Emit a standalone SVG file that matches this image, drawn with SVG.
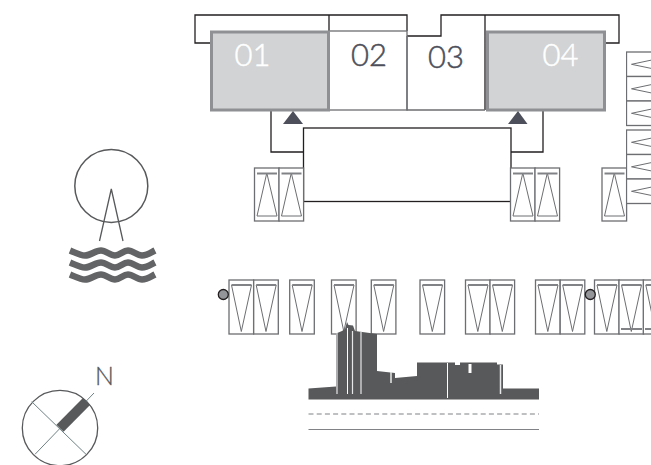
<svg xmlns="http://www.w3.org/2000/svg" width="651" height="465" viewBox="0 0 651 465">
<style>
.wall{fill:none;stroke:#231f20;stroke-width:1.3}
.part{fill:none;stroke:#6d6e71;stroke-width:1.3}
.hi{fill:#d1d3d4;stroke:#8e9093;stroke-width:3}
.num{font-family:"Lato","Liberation Sans",sans-serif;font-weight:300;font-size:31px;text-anchor:middle;stroke-width:0.5}
.tri{fill:#4d4f5a}
.frame{fill:#fff;stroke:#6d6e71;stroke-width:1.3}
.glass{fill:none;stroke:#6d6e71;stroke-width:1}
.bar{stroke:#808285;stroke-width:2;fill:none}
.dot{fill:#939598;stroke:#231f20;stroke-width:1.3}
.sky{fill:#58595b}
.gap{stroke:#e6e7e8;fill:none}
</style>
<defs>
<g id="wd"><rect class="frame" x="0" y="0" width="24.6" height="54"/><path class="glass" d="M2.5 5L12.3 51.5L22.5 5"/><path class="bar" d="M2.5 5H22.5"/></g>
<g id="wu"><rect class="frame" x="0" y="0" width="24.6" height="53"/><path class="glass" d="M2.5 48L12.3 5L22.5 48Z"/><path class="bar" d="M2.5 5.5H22.5"/></g>
<g id="wl"><rect class="frame" x="0" y="0" width="40" height="24.5"/><path class="glass" d="M30 7L5 12.3L30 17.5"/></g>
</defs>
<g id="connectors">
<path class="wall" d="M211 43H195V15H407V31M329 15V31M407 36H441V15H619V43H605M485 15V110"/>
<path class="wall" d="M271 110V152H303M543 110V152H511"/>
</g>
<g id="room-02"><rect class="part" x="329" y="31" width="78" height="79"/><text class="num" x="369" y="66" fill="#4d4f5a" stroke="#4d4f5a">02</text></g>
<g id="room-03"><path class="part" d="M407 36V110H485"/><text class="num" x="446" y="68" fill="#4d4f5a" stroke="#4d4f5a">03</text></g>
<g id="room-01"><rect class="hi" x="211.5" y="32" width="117" height="78"/><text class="num" x="252.5" y="66" fill="#fff" stroke="#fff">01</text></g>
<g id="room-04"><rect class="hi" x="487.5" y="32" width="117" height="78"/><text class="num" x="560.5" y="66" fill="#fff" stroke="#fff">04</text></g>
<g id="entrance-1"><path class="tri" d="M293 111L303 124H283Z"/></g>
<g id="entrance-2"><path class="tri" d="M518 111L527.5 124H508Z"/></g>
<g id="core"><rect x="303.500" y="128" width="207.500" height="73.500" fill="#fff" stroke="#231f20" stroke-width="1.300"/></g>
<g id="windows-up">
<use href="#wu" x="254.500" y="168"/><use href="#wu" x="279" y="168"/>
<use href="#wu" x="510.500" y="168"/><use href="#wu" x="535" y="168"/><use href="#wu" x="602" y="168"/>
</g>
<g id="windows-right">
<svg x="626" y="40" width="25" height="190" viewBox="626 40 25 190">
<use href="#wl" x="626.500" y="52"/><use href="#wl" x="626.500" y="76.500"/><use href="#wl" x="626.500" y="101"/>
<use href="#wl" x="626.500" y="130"/><use href="#wl" x="626.500" y="154.500"/><use href="#wl" x="626.500" y="179"/>
</svg>
</g>
<g id="windows-down">
<use href="#wd" x="229" y="280"/><use href="#wd" x="253.700" y="280"/><use href="#wd" x="289.700" y="280"/>
<use href="#wd" x="331.500" y="280"/><use href="#wd" x="371.300" y="280"/><use href="#wd" x="420" y="280"/>
<use href="#wd" x="465.500" y="280"/><use href="#wd" x="490" y="280"/><use href="#wd" x="535.500" y="280"/><use href="#wd" x="560.200" y="280"/>
<use href="#wd" x="594.500" y="280"/><use href="#wd" x="619" y="280"/><use href="#wd" x="643.300" y="280"/>
<path class="bar" d="M621 329H642M645 329H651"/>
</g>
<g id="dot-1"><circle class="dot" cx="223.300" cy="294.500" r="5"/></g>
<g id="dot-2"><circle class="dot" cx="590.300" cy="294.500" r="5"/></g>
<g id="skyline">
<path class="sky" d="M308.500 388.500L336 386.500V333.500L342 331L345 329L347 322L348.500 325L353 325.500L355 331L377 334V371L395 373V378L417 376V362.500H455V365H460V362.500L497 362.500V364.500H503V388.500H539V399.500H308.500Z"/>
<path class="gap" stroke-width="1.200" d="M337 333V394M352.500 331V394M361 332V394"/>
<path d="M347.500 328V394M447.500 363V398" stroke="#fff" stroke-width="1" fill="none"/>
<path class="gap" stroke-width="1.500" d="M391 372V383M500.500 365V394"/>
<path d="M470 364V373" stroke="#fff" stroke-width="3" fill="none"/>
<path d="M308.500 414H539" stroke="#808285" stroke-width="1.200" stroke-dasharray="5 3.200" fill="none"/>
<path d="M308.500 429.500H539" stroke="#808285" stroke-width="1.200" fill="none"/>
</g>
<g id="ferris-wheel">
<circle cx="111.300" cy="186" r="36.500" fill="none" stroke="#58595b" stroke-width="1.500"/>
<path d="M99.500 241L111.300 189L123 241" fill="none" stroke="#58595b" stroke-width="1.300"/>
<g fill="none" stroke="#636466" stroke-width="6.500">
<path d="M70 250.500C75 252.500 80 255.500 85 255.500C91 255.500 95 250.500 101 250.500C106 250.500 110 255.500 115 255.500C120 255.500 123 250.500 128 250.500C133 250.500 137 255.500 142 255.500C147 255.500 151 252.500 155 250.500"/>
<path d="M70 262.500C75 264.500 80 267.500 85 267.500C91 267.500 95 262.500 101 262.500C106 262.500 110 267.500 115 267.500C120 267.500 123 262.500 128 262.500C133 262.500 137 267.500 142 267.500C147 267.500 151 264.500 155 262.500"/>
<path d="M70 274.500C75 276.500 80 279.500 85 279.500C91 279.500 95 274.500 101 274.500C106 274.500 110 279.500 115 279.500C120 279.500 123 274.500 128 274.500C133 274.500 137 279.500 142 279.500C147 279.500 151 276.500 155 274.500"/>
</g>
</g>
<g id="compass">
<circle cx="60" cy="428" r="37.700" fill="none" stroke="#58595b" stroke-width="1.300"/>
<path d="M31.700 401.700L86 454.300M35 454.300L94 393" fill="none" stroke="#6f8285" stroke-width="1"/>
<path d="M60 428.300L86.500 401.500" stroke="#58595b" stroke-width="10" fill="none"/>
<text x="95" y="385" font-family="Lato,'Liberation Sans',sans-serif" font-weight="300" font-size="25" fill="#58595b" stroke="#58595b" stroke-width="0.300">N</text>
</g>
</svg>
